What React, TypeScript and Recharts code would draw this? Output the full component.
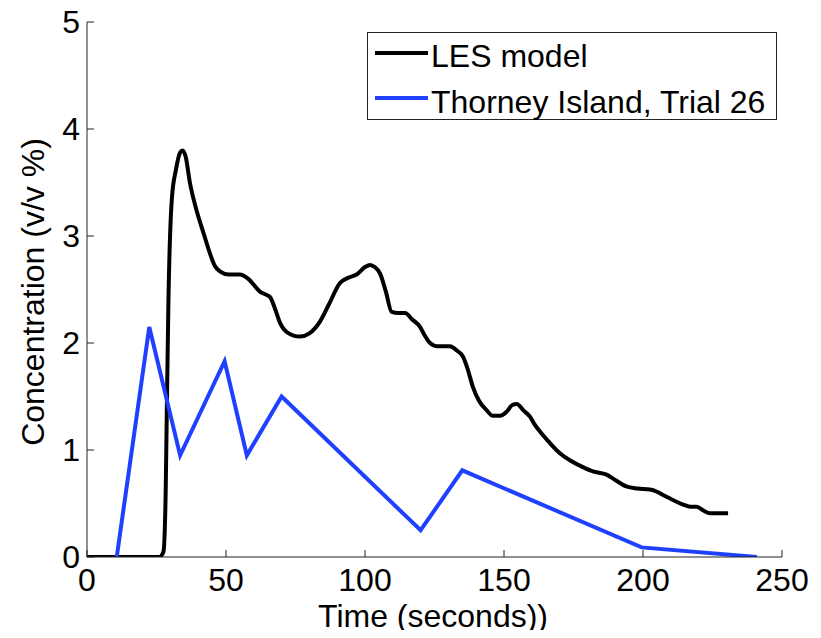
import React from 'react';
import { LineChart, Line, XAxis, YAxis, Legend, Label } from 'recharts';

// ---- data ----
const timeTicks = [0, 50, 100, 150, 200, 250];
const concTicks = [0, 1, 2, 3, 4, 5];

const lesTime = [
  0, 26, 27.5, 28.3, 28.6, 29.3, 30.5, 32, 33.5, 34.4, 35.5, 37, 39.4, 42, 44.2, 46, 47.8, 51, 55, 58,
  62.2, 65.8, 67.5, 69.4, 72, 76.6, 80, 83.8, 87, 91, 94, 97, 100, 101.8, 103.5, 105.4, 107.5, 109.6,
  112, 114.4, 117, 119.8, 121.5, 123.4, 126, 130.6, 133, 135.3, 137, 138.8, 141, 143.8, 146, 148.6,
  151, 153, 154.6, 157, 159.4, 161, 163, 166, 170.1, 174, 178.4, 182, 186.9, 190, 194, 198, 202.5,
  205, 207.2, 211, 214.4, 217, 219.3, 222, 224, 230.6,
];
const lesConc = [
  0, 0, 0.05, 0.6, 1.16, 2.4, 3.34, 3.62, 3.78, 3.8, 3.74, 3.5, 3.24, 3.02, 2.84, 2.72, 2.67, 2.64, 2.64, 2.6,
  2.48, 2.43, 2.33, 2.19, 2.1, 2.06, 2.09, 2.2, 2.36, 2.56, 2.61, 2.64, 2.71, 2.73, 2.71, 2.65, 2.48, 2.29,
  2.28, 2.28, 2.22, 2.15, 2.07, 2.0, 1.97, 1.97, 1.93, 1.87, 1.75, 1.59, 1.46, 1.37, 1.32, 1.32,
  1.36, 1.42, 1.43, 1.37, 1.31, 1.24, 1.17, 1.08, 0.97, 0.9, 0.84, 0.8, 0.77, 0.72, 0.66, 0.64, 0.63,
  0.61, 0.58, 0.53, 0.49, 0.47, 0.47, 0.43, 0.41, 0.41,
];

const trialTime = [10.7, 22.4, 33.5, 49.5, 57.5, 70, 120, 135, 199.5, 241];
const trialConc = [0, 2.15, 0.95, 1.83, 0.95, 1.5, 0.25, 0.81, 0.09, 0];

const seriesNames = ['LES model', 'Thorney Island, Trial 26'];
const seriesColors = ['#000000', '#2040ff'];
const xTitle = 'Time (seconds))';
const yTitle = 'Concentration (v/v %)';

const lesData = lesTime.map((t, i) => ({ t, c: lesConc[i] }));
const trialData = trialTime.map((t, i) => ({ t, c: trialConc[i] }));

// ---- layout (page pixel coordinates; wrapper cancels the body margin) ----
const W = 821;
const H = 638;
const YW = 87;
const XH = 81;
const FONT = '"Liberation Sans", Arial, Helvetica, sans-serif';
const FS = 32;
const TICK = 7;
const AX = '#222222';

const BottomTick = (p: any) => {
  const { x, y, payload } = p;
  return (
    <g>
      <line x1={x} y1={y} x2={x} y2={y - TICK} stroke={AX} strokeWidth={1} />
      <text x={x} y={y + 34} textAnchor="middle" fontFamily={FONT} fontSize={FS} fill="#000">
        {payload.value}
      </text>
    </g>
  );
};
const TopTick = (p: any) => {
  const { x, y } = p;
  return <line x1={x} y1={y} x2={x} y2={y + TICK} stroke={AX} strokeWidth={1} />;
};
const LeftTick = (p: any) => {
  const { x, y, payload } = p;
  return (
    <g>
      <line x1={x} y1={y} x2={x + TICK} y2={y} stroke={AX} strokeWidth={1} />
      <text x={x - 7} y={y + 11} textAnchor="end" fontFamily={FONT} fontSize={FS} fill="#000">
        {payload.value}
      </text>
    </g>
  );
};
const RightTick = (p: any) => {
  const { x, y } = p;
  return <line x1={x} y1={y} x2={x - TICK} y2={y} stroke={AX} strokeWidth={1} />;
};

const XTitle = () => (
  <text x={433} y={627} textAnchor="middle" fontFamily={FONT} fontSize={FS} fill="#000">
    {xTitle}
  </text>
);
const YTitle = () => (
  <text
    x={44}
    y={292}
    transform="rotate(-90, 44, 292)"
    textAnchor="middle"
    fontFamily={FONT}
    fontSize={FS}
    fill="#000"
  >
    {yTitle}
  </text>
);

const LegendBox = (props: any) => {
  const payload = props.payload || [];
  const rows = [
    { line: 21, base: 35 },
    { line: 66, base: 81 },
  ];
  return (
    <svg width={410} height={88} style={{ display: 'block' }}>
      <rect x={0.5} y={0.5} width={409} height={87} fill="#fff" stroke={AX} strokeWidth={1} />
      {payload.map((e: any, i: number) => (
        <g key={i}>
          <line x1={8} y1={rows[i].line} x2={61} y2={rows[i].line} stroke={e.color} strokeWidth={4} />
          <text x={64} y={rows[i].base} fontFamily={FONT} fontSize={FS} fill="#000">
            {e.value}
          </text>
        </g>
      ))}
    </svg>
  );
};

export default function App() {
  return (
    <div style={{ width: W, height: H, margin: -8, background: '#fff' }}>
      <LineChart width={W} height={H} margin={{ top: 22, right: 39, left: 0, bottom: 0 }}>
        <XAxis
          dataKey="t"
          type="number"
          domain={[0, 250]}
          ticks={timeTicks}
          interval={0}
          height={XH}
          tickSize={0}
          tickMargin={0}
          tick={<BottomTick />}
          axisLine={{ stroke: AX, strokeWidth: 1 }}
          tickLine={false}
          allowDataOverflow
        >
          <Label content={<XTitle />} />
        </XAxis>
        <XAxis
          xAxisId="top"
          orientation="top"
          dataKey="t"
          type="number"
          domain={[0, 250]}
          ticks={timeTicks}
          interval={0}
          height={0}
          tickSize={0}
          tickMargin={0}
          tick={<TopTick />}
          axisLine={{ stroke: AX, strokeWidth: 1 }}
          tickLine={false}
          allowDataOverflow
        />
        <YAxis
          type="number"
          domain={[0, 5]}
          ticks={concTicks}
          interval={0}
          width={YW}
          tickSize={0}
          tickMargin={0}
          tick={<LeftTick />}
          axisLine={{ stroke: AX, strokeWidth: 1 }}
          tickLine={false}
          allowDataOverflow
        >
          <Label content={<YTitle />} />
        </YAxis>
        <YAxis
          yAxisId="right"
          orientation="right"
          type="number"
          domain={[0, 5]}
          ticks={concTicks}
          interval={0}
          width={0}
          tickSize={0}
          tickMargin={0}
          tick={<RightTick />}
          axisLine={{ stroke: AX, strokeWidth: 1 }}
          tickLine={false}
          allowDataOverflow
        />
        <Legend
          layout="horizontal"
          verticalAlign="middle"
          align="center"
          content={<LegendBox />}
          wrapperStyle={{ position: 'absolute', left: 367, top: 32, width: 410, height: 88 }}
        />
        <Line
          data={lesData}
          dataKey="c"
          name={seriesNames[0]}
          type="monotone"
          stroke={seriesColors[0]}
          strokeWidth={4}
          dot={false}
          isAnimationActive={false}
        />
        <Line
          data={trialData}
          dataKey="c"
          name={seriesNames[1]}
          type="linear"
          stroke={seriesColors[1]}
          strokeWidth={4}
          dot={false}
          isAnimationActive={false}
        />
      </LineChart>
    </div>
  );
}
